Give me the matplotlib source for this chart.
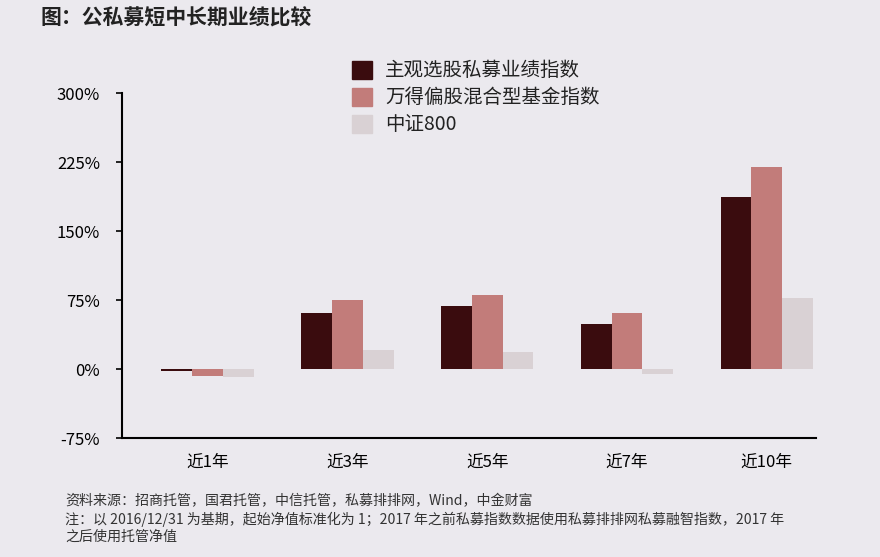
import numpy as np
import matplotlib
matplotlib.use('Agg')
import matplotlib.pyplot as plt
from matplotlib.patches import Rectangle

plt.rcParams['font.family'] = ['Noto Sans CJK SC', 'DejaVu Sans']

categories = ['近1年', '近3年', '近5年', '近7年', '近10年']
series_names = ['主观选股私募业绩指数', '万得偏股混合型基金指数', '中证800']
private_idx = [-2, 61, 68, 49, 187]
fund_idx = [-8, 75, 81, 61, 220]
csi800 = [-9, 21, 18, -5, 77]
yticks = [-75, 0, 75, 150, 225, 300]

colors = ['#3a0c0e', '#c27c7a', '#d9d1d4']
bg = '#ebe9ee'

fig = plt.figure(figsize=(8.8, 5.57), dpi=100, facecolor=bg)
ax = fig.add_axes([0.139, 0.2136, 0.788, 0.6194], facecolor=bg)

x = np.arange(len(categories))
w = 0.22
for i, vals in enumerate([private_idx, fund_idx, csi800]):
    ax.bar(x + (i - 1) * w, vals, w, color=colors[i], label=series_names[i])

ax.set_xlim(-0.61, 4.35)
ax.set_ylim(-75, 300)
ax.set_yticks(yticks)
ax.set_yticklabels([f'{v}%' for v in yticks], fontsize=12)
ax.set_xticks(x)
ax.set_xticklabels(categories, fontsize=12)
ax.tick_params(axis='x', length=0, pad=11)
ax.tick_params(axis='y', length=4, width=1.2, pad=12)
for s in ['top', 'right']:
    ax.spines[s].set_visible(False)
ax.spines['left'].set_linewidth(1.5)
ax.spines['bottom'].set_linewidth(1.5)

# legend drawn by hand in figure coords
for i, name in enumerate(series_names):
    yy = 1 - (70 + 27 * i) / 557
    fig.patches.append(Rectangle((352 / 880, yy - 9 / 557), 20 / 880, 18 / 557,
                                 transform=fig.transFigure, color=colors[i]))
    fig.text(385 / 880, yy, name, fontsize=14, va='center', ha='left', color='#222222')

fig.text(40 / 880, 1 - 18 / 557, '图：公私募短中长期业绩比较', fontsize=15, fontweight='bold',
         va='center', ha='left', color='#222222')

notes = ['资料来源：招商托管，国君托管，中信托管，私募排排网，Wind，中金财富',
         '注：以 2016/12/31 为基期，起始净值标准化为 1；2017 年之前私募指数数据使用私募排排网私募融智指数，2017 年',
         '之后使用托管净值']
for i, t in enumerate(notes):
    fig.text(65 / 880, 1 - (501 + 18 * i) / 557, t, fontsize=10.1, va='center', ha='left',
             color='#333333')

plt.savefig('out.png', dpi=100, facecolor=bg)
